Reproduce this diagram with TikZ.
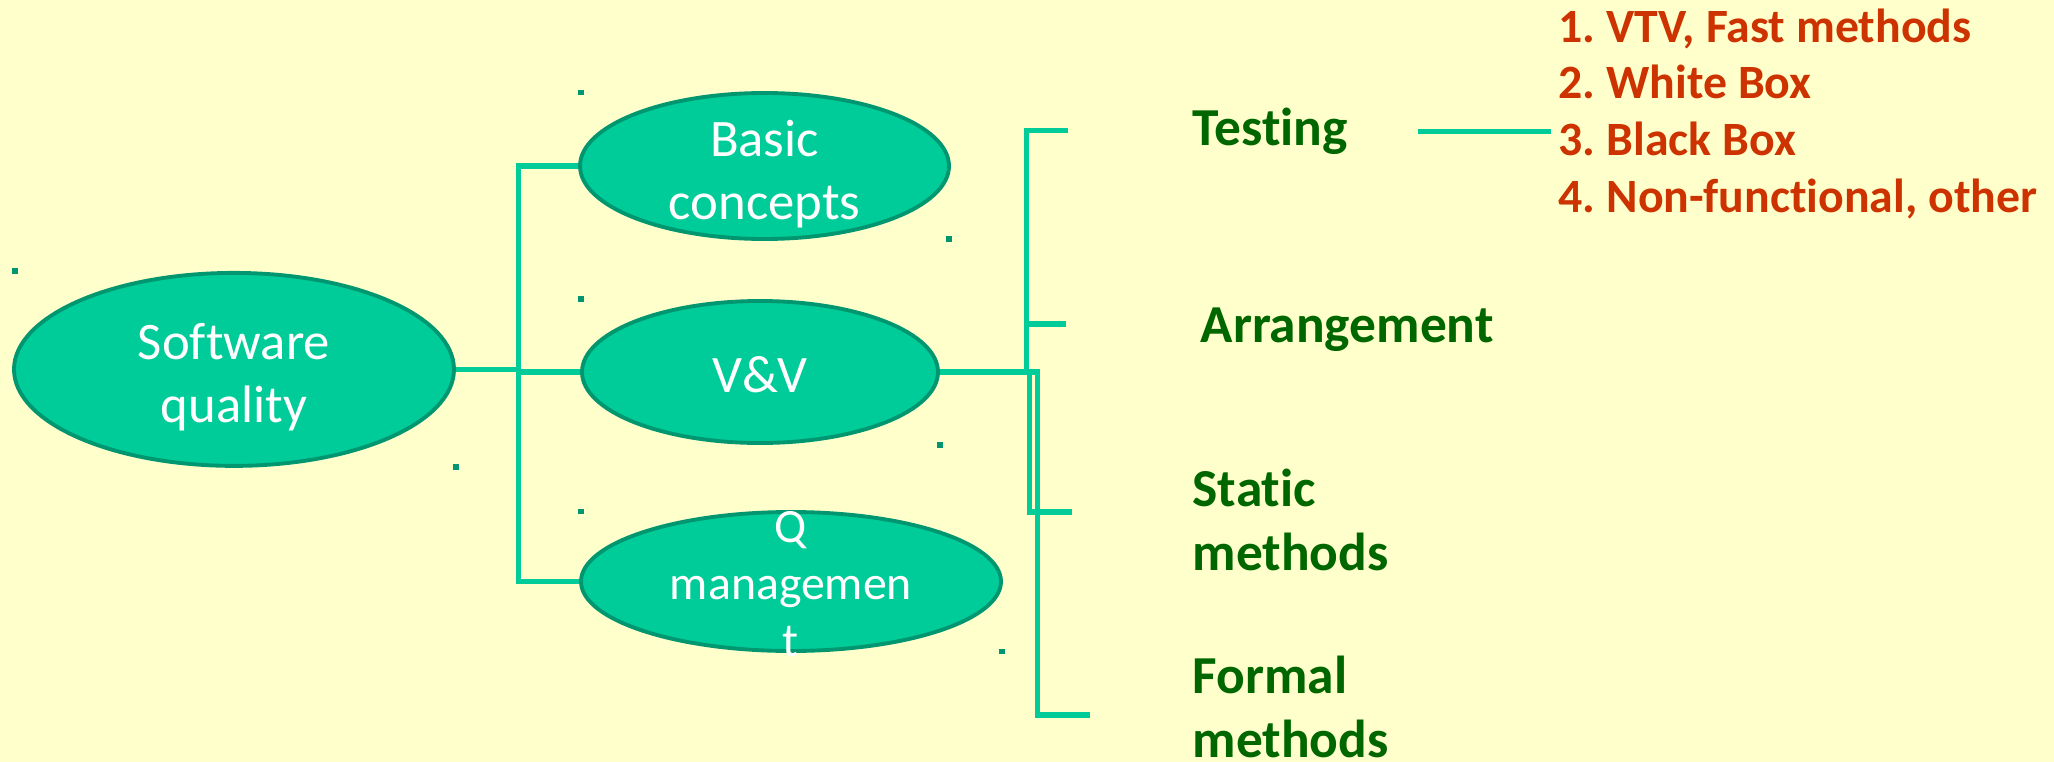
\documentclass[tikz,border=0pt]{standalone}
\usepackage{fontspec}
\setmainfont{Carlito}[Ligatures=NoCommon]
\usepackage{xcolor}
\usetikzlibrary{
    shapes.geometric,
    positioning
}
\definecolor{paper}{HTML}{FFFFCC}
\definecolor{ovalfill}{HTML}{00CC99}
\definecolor{ovalline}{HTML}{009670}
\definecolor{leafgreen}{HTML}{006600}
\definecolor{listred}{HTML}{CC3300}
\frenchspacing

\begin{document}
\begin{tikzpicture}[
    oval/.style={ellipse, draw=ovalline, line width=1.1pt, fill=ovalfill, inner sep=0pt},
    ovaltext/.style={text=white, align=center, font=\fontsize{15}{17.9}\selectfont},
    link/.style={draw=ovalfill, line width=1.45pt},
    leaf/.style={text=leafgreen, align=left, anchor=base west, inner sep=0pt,
        font=\fontsize{15.2}{18.2}\selectfont\bfseries},
    speck/.style={fill=ovalline}
]
    \useasboundingbox (0,0) rectangle (20.54,-7.62);
    \fill[paper] (0,0) rectangle (20.54,-7.62);

    % ovals
    \node[oval, minimum width=4.40cm, minimum height=1.93cm] (sq) at (2.34,-3.694) {};
    \node[oval, minimum width=3.69cm, minimum height=1.46cm] (basic) at (7.645,-1.66) {};
    \node[oval, minimum width=3.56cm, minimum height=1.42cm] (vv) at (7.60,-3.72) {};
    \node[oval, minimum width=4.20cm, minimum height=1.39cm] (qm) at (7.91,-5.815) {};
    \node[ovaltext] (sqtext) at (2.34,-3.77) {Software\\quality};
    \node[ovaltext] (basictext) at (7.645,-1.745) {Basic\\concepts};
    \node[ovaltext] (vvtext) at (7.60,-3.75) {V\&V};
    \node[ovaltext, font=\fontsize{13.6}{16.2}\selectfont] (qmtext) at (7.91,-5.845) {Q\\managemen\\t};

    % labels (base = last line)
    \node[leaf] (testing) at (11.92,-1.457) {Testing};
    \node[leaf] (arrange) at (12.00,-3.42) {Arrangement};
    \node[leaf] (static) at (11.92,-5.70) {Static\\methods};
    \node[leaf] (formal) at (11.92,-7.57) {Formal\\methods};
    \node[text=listred, align=left, anchor=base west, inner sep=0pt,
        font=\fontsize{13.6}{16.1}\selectfont\bfseries] (list) at (15.58,-2.12)
        {1. VTV, Fast methods\\2. White Box\\3. Black Box\\4. Non-functional, other};

    % left bus
    \coordinate (lbus) at (5.185,0);
    \draw[link] (sq.east) -- (sq.east -| lbus);
    \draw[link] (basic.west) -- (basic.west -| lbus) -- (qm.west -| lbus) -- (qm.west);
    \draw[link] (vv.west) -- (vv.west -| lbus);

    % right bracket
    \coordinate (rbus) at (10.265,0);
    \coordinate (sbus) at (10.295,0);
    \coordinate (tend) at (10.68,-1.307);
    \coordinate (aend) at (10.66,-3.24);
    \coordinate (send) at (10.72,-5.12);
    \coordinate (fend) at (10.90,-7.15);
    \draw[link] (tend) -- (tend -| rbus) -- (vv.east -| rbus);
    \draw[link] (aend) -- (aend -| rbus);
    \draw[link] (vv.east -| sbus) |- (send);
    \draw[link] (vv.east) -- ++(0.98,0) |- (fend);
    \draw[link] ([xshift=0.7cm]testing.east) -- ([xshift=-0.07cm]testing.east -| list.west);

    % specks
    \fill[speck] (0.115,-2.683) rectangle ++(0.06,-0.055);
    \fill[speck] (5.78,-0.898) rectangle ++(0.06,-0.055);
    \fill[speck] (9.46,-2.363) rectangle ++(0.06,-0.055);
    \fill[speck] (5.78,-2.963) rectangle ++(0.06,-0.055);
    \fill[speck] (4.53,-4.643) rectangle ++(0.06,-0.055);
    \fill[speck] (9.37,-4.423) rectangle ++(0.06,-0.055);
    \fill[speck] (5.78,-5.088) rectangle ++(0.06,-0.055);
    \fill[speck] (9.99,-6.488) rectangle ++(0.06,-0.055);
\end{tikzpicture}
\end{document}
